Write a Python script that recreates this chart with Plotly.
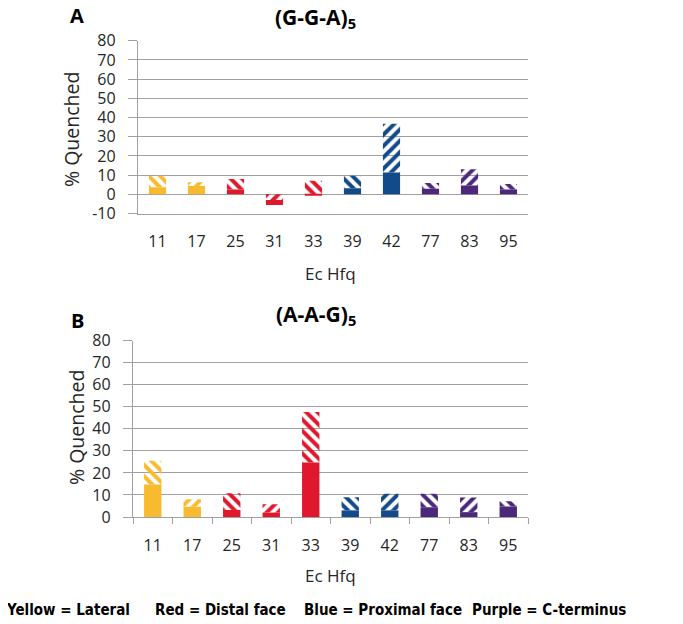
import plotly.graph_objects as go

# ---------------- data ----------------
residues = ["11", "17", "25", "31", "33", "39", "42", "77", "83", "95"]
groups = ["Yellow", "Yellow", "Red", "Red", "Red", "Blue", "Blue", "Purple", "Purple", "Purple"]
stripe_dir = ["\\", "/", "\\", "/", "\\", "\\", "/", "\\", "/", "\\"]

# panel A (G-G-A)5 : solid part and hatched increment (% quenched)
ggaSolid = [3.7, 4.3, 2.5, -2.6, -0.7, 3.2, 11.4, 2.9, 4.6, 2.5]
ggaHatch = [6.0, 2.0, 5.5, -3.0, 7.1, 6.5, 25.4, 3.0, 8.4, 2.9]

# panel B (A-A-G)5
aagSolid = [14.8, 4.7, 3.2, 2.0, 24.7, 3.0, 3.0, 4.4, 2.2, 4.8]
aagHatch = [10.7, 3.3, 7.6, 3.8, 23.0, 6.0, 7.5, 6.1, 6.6, 2.4]

yTicksA = list(range(-10, 81, 10))
yTicksB = list(range(0, 81, 10))

legendTexts = ["Yellow = Lateral", "Red = Distal face", "Blue = Proximal face", "Purple = C-terminus"]

# ---------------- style ----------------
palette = {"Yellow": "#F8BB30", "Red": "#E0182D", "Blue": "#124A8A", "Purple": "#4B2879"}
W, H = 683, 624
OFF = 8  # page body margin
FONT = "Open Sans, Lato, DejaVu Sans, sans-serif"
TXT = "#262626"
GRID = "#A0A0A0"


def px(x):
    return (x - OFF) / W


def py(y):
    return 1 - (y - OFF) / H


colors = [palette[g] for g in groups]


def bases(solid, hatch):
    sb, hb = [], []
    for s, h in zip(solid, hatch):
        if s < 0 and h < 0:
            sb.append(h)
            hb.append(0)
        elif s > 0 and h > 0:
            sb.append(0)
            hb.append(s)
        else:
            sb.append(0)
            hb.append(0)
    return sb, hb


fig = go.Figure()


def add_panel(solid, hatch, xa, ya):
    sb, hb = bases(solid, hatch)
    fig.add_trace(go.Bar(x=residues, y=solid, base=sb, width=0.44,
                         marker=dict(color=colors, line=dict(width=0)),
                         xaxis=xa, yaxis=ya, showlegend=False))
    fig.add_trace(go.Bar(x=residues, y=hatch, base=hb, width=0.44,
                         marker=dict(color=colors, line=dict(width=0),
                                     pattern=dict(shape=stripe_dir, fgcolor=colors, bgcolor="white",
                                                  size=8, solidity=0.5, fillmode="replace")),
                         xaxis=xa, yaxis=ya, showlegend=False))


add_panel(ggaSolid, ggaHatch, "x", "y")
add_panel(aagSolid, aagHatch, "x2", "y2")

# domains (pixel layout)
xA = [px(138), px(528)]
yA = [py(213.5), py(40.7)]
xB = [px(133), px(528)]
yB = [py(517), py(340.7)]

rangeA = [min(yTicksA), max(yTicksA)]
rangeB = [min(yTicksB), max(yTicksB)]
zeroA = yA[0] + (0 - rangeA[0]) / (rangeA[1] - rangeA[0]) * (yA[1] - yA[0])

tickfont = dict(family=FONT, size=16, color=TXT)

yax_common = dict(showline=True, linecolor=GRID, linewidth=1.3, ticks="outside", ticklen=9,
                  tickcolor=GRID, tickwidth=1.3, showgrid=True, gridcolor=GRID, gridwidth=1.3,
                  tickfont=tickfont, zeroline=False, ticklabelstandoff=9, automargin=False)

fig.update_layout(
    template="none",
    width=W, height=H, margin=dict(l=0, r=0, t=0, b=0, pad=0),
    paper_bgcolor="white", plot_bgcolor="white",
    barmode="overlay", bargap=0.56,
    xaxis=dict(domain=xA, anchor="y", type="category", range=[-0.5, len(residues) - 0.5],
               showline=True, linecolor=GRID, linewidth=1.3, ticks="", showgrid=False,
               tickfont=tickfont, ticklabelstandoff=13, automargin=False),
    xaxis3=dict(overlaying="x", anchor="free", position=zeroA, range=[-0.5, len(residues) - 0.5],
                tickvals=[i - 0.5 for i in range(len(residues) + 1)], ticks="outside", ticklen=7,
                tickcolor=GRID, tickwidth=1.3, showline=True, linecolor=GRID, linewidth=1.3,
                showticklabels=False, showgrid=False, zeroline=False, automargin=False),
    yaxis=dict(domain=yA, anchor="x", range=rangeA, tickvals=yTicksA,
               ticktext=[str(v) for v in yTicksA], **yax_common),
    xaxis2=dict(domain=xB, anchor="y2", type="category", range=[-0.5, len(residues) - 0.5],
                showline=True, linecolor=GRID, linewidth=1.3, ticks="outside", ticklen=6,
                tickcolor=GRID, tickwidth=1.3, tickson="boundaries", showgrid=False,
                tickfont=tickfont, ticklabelstandoff=14, automargin=False),
    yaxis2=dict(domain=yB, anchor="x2", range=rangeB, tickvals=yTicksB,
                ticktext=[str(v) for v in yTicksB], **yax_common),
)

ann = []


def add_text(text, x, y, size, color="black", angle=0, xanchor="center", family=FONT):
    ann.append(dict(text=text, x=px(x), y=py(y), xref="paper", yref="paper", showarrow=False,
                    xanchor=xanchor, yanchor="middle", textangle=angle,
                    font=dict(family=family, size=size, color=color)))


# panel letters
add_text("<b>A</b>", 77, 16, 20)
add_text("<b>B</b>", 77, 320, 20)

add_text("<b>(G-G-A)<sub>5</sub></b>", 315, 18, 21)
add_text("<b>(A-A-G)<sub>5</sub></b>", 316, 315, 21)

add_text("% Quenched", 72, 130, 19.5, TXT, -90)
add_text("% Quenched", 76, 428, 19.5, TXT, -90)

add_text("Ec Hfq", 330, 273, 17, TXT)
add_text("Ec Hfq", 330, 575, 17, TXT)

for t, x in zip(legendTexts, [4, 153, 302, 470]):
    add_text("<b>" + t + "</b>", x, 610, 15, "black", 0, "left",
             "DejaVu Sans Condensed, Liberation Sans Narrow, sans-serif")

fig.update_layout(annotations=ann)

fig.write_html("out.html")
